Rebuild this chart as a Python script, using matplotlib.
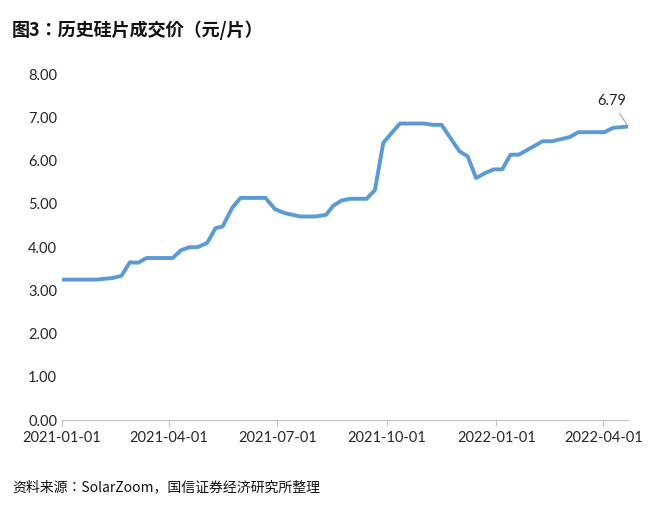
import matplotlib
matplotlib.use("Agg")
import matplotlib.pyplot as plt
from matplotlib import font_manager
from matplotlib.font_manager import FontProperties
import datetime as dt

cands = [f for f in font_manager.fontManager.ttflist if f.name.startswith('Noto Sans CJK')]
def wnum(f):
    w = f.weight
    if isinstance(w, int): return w
    return font_manager.weight_dict.get(w, 400)
def pick(w):
    best = min(cands, key=lambda f: (abs(wnum(f) - w), 'SC' not in f.name))
    return FontProperties(fname=best.fname, weight=w)
fp_reg = pick(400)
fp_bold = pick(700)
plt.rcParams['font.family'] = 'Lato'

day_offsets = [0,29,43,50,57,64,71,93,100,107,114,122,129,135,143,150,171,179,187,200,213,222,228,235,242,256,263,270,277,284,304,312,319,334,341,348,356,363,370,377,384,404,412,427,434,456,463,476]
prices = [3.25,3.25,3.29,3.34,3.65,3.64,3.75,3.75,3.93,4.00,4.00,4.10,4.44,4.48,4.91,5.14,5.14,4.88,4.79,4.71,4.71,4.75,4.96,5.08,5.12,5.12,5.32,6.41,6.64,6.86,6.86,6.83,6.83,6.22,6.10,5.60,5.72,5.80,5.80,6.14,6.14,6.45,6.45,6.55,6.66,6.66,6.76,6.79]
tick_labels = ["2021-01-01","2021-04-01","2021-07-01","2021-10-01","2022-01-01","2022-04-01"]
y_ticks = [0,1,2,3,4,5,6,7,8]

start = dt.date(2021,1,1)
dates = [start + dt.timedelta(days=d) for d in day_offsets]
tick_dates = [dt.date.fromisoformat(t) for t in tick_labels]

fig = plt.figure(figsize=(6.6,5.05), dpi=100)
ax = fig.add_axes([0.094,0.168,0.858,0.685])
ax.plot(dates, prices, color='#5B9BD5', lw=2.8, solid_joinstyle='round')
ax.set_xlim(dates[0], dates[-1])
ax.set_ylim(0,8)
ax.set_yticks(y_ticks)
ax.set_yticklabels([f"{v:.2f}" for v in y_ticks])
ax.set_xticks(tick_dates)
ax.set_xticklabels(tick_labels)
for s in ['top','right','left']:
    ax.spines[s].set_visible(False)
ax.spines['bottom'].set_color('#BFBFBF')
ax.tick_params(axis='y', length=0, labelsize=10.5, colors='#262626')
ax.tick_params(axis='x', length=4, color='#BFBFBF', labelsize=10.5, colors='#262626')

ax.annotate(f"{prices[-1]:.2f}", xy=(dates[-1], prices[-1]),
            xytext=(dates[-1]-dt.timedelta(days=14), prices[-1]+0.42),
            ha='center', va='bottom', fontsize=10.5, color='#262626',
            arrowprops=dict(arrowstyle='-', color='#A6A6A6', lw=0.8))

fig.text(0.018, 0.94, "图3：历史硅片成交价（元/片）", fontproperties=fp_bold, fontsize=13, va='center', color='#111111')
fig.text(0.018, 0.035, "资料来源：SolarZoom，国信证券经济研究所整理", fontproperties=fp_reg, fontsize=10, va='center', color='#111111')
fig.savefig("out.png", dpi=100)
